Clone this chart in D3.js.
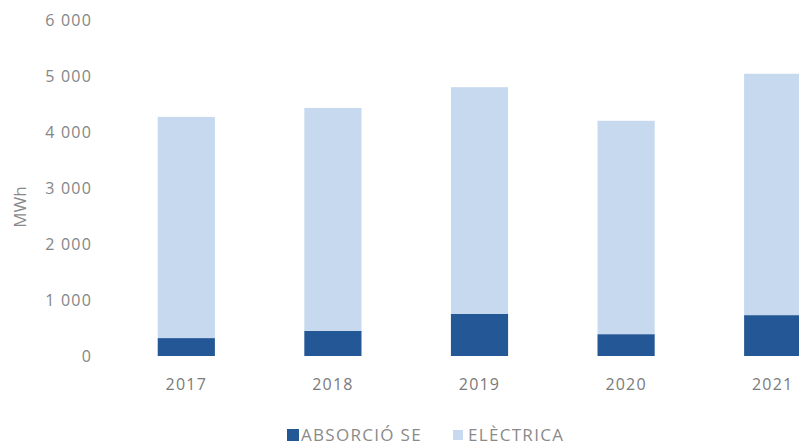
<!DOCTYPE html>
<html><head><meta charset="utf-8">
<script src="https://cdn.jsdelivr.net/npm/d3@7"></script>
<style>body{margin:0;background:#fff}svg{display:block}</style>
</head><body><svg id="c" width="799" height="446"></svg>
<script>
const years = ["2017","2018","2019","2020","2021"];
const absorcio = [320, 450, 750, 390, 730];
const electrica = [3950, 3980, 4050, 3810, 4310];
const yTicks = [0,1000,2000,3000,4000,5000,6000];
const seriesNames = ["ABSORCIÓ SE","ELÈCTRICA"];
const colors = ["#245795","#c6d9ef"];

const svg = d3.select("#c");
const font = "'Open Sans', 'Liberation Sans', sans-serif";
const y = d3.scaleLinear().domain([0,6000]).range([356,20]);
const x = d3.scaleBand().domain(years).range([113,846]).paddingInner(0.61).paddingOuter(0.305);

const data = years.map((yr,i)=>({year:yr, ABS:absorcio[i], ELE:electrica[i]}));
const stack = d3.stack().keys(["ABS","ELE"])(data);

svg.append("g").selectAll("g").data(stack).join("g")
  .attr("fill",(d,i)=>colors[i])
  .selectAll("rect").data(d=>d).join("rect")
  .attr("x",d=>x(d.data.year))
  .attr("width",x.bandwidth())
  .attr("y",d=>y(d[1]))
  .attr("height",d=>y(d[0])-y(d[1]));

const fmt = v => d3.format(",")(v).replace(/,/g," ");
const ya = svg.append("g").attr("transform","translate(92,0)")
  .call(d3.axisLeft(y).tickValues(yTicks).tickFormat(fmt).tickSize(0).tickPadding(0));
ya.select(".domain").remove();
ya.selectAll("text").attr("font-family",font).attr("font-size",16).attr("letter-spacing","1.2px")
  .attr("fill","#858585").attr("dy","0.36em");

const xa = svg.append("g").attr("transform","translate(0,378)")
  .call(d3.axisBottom(x).tickSize(0).tickPadding(0));
xa.select(".domain").remove();
xa.selectAll("text").attr("font-family",font).attr("font-size",16).attr("letter-spacing","1.2px")
  .attr("fill","#7a7a7a").attr("dy","0.78em");

svg.append("text").attr("transform","translate(26,207) rotate(-90)")
  .attr("text-anchor","middle").attr("font-family",font).attr("font-size",17).attr("fill","#8a8a8a").text("MWh");

const leg = svg.append("g").attr("transform","translate(287,428)");
const legX = [0, 166];
seriesNames.forEach((n,i)=>{
  const g = leg.append("g").attr("transform",`translate(${legX[i]},0)`);
  g.append("rect").attr("width",i===0?12:10).attr("height",i===0?12:10).attr("y",i===0?1:2).attr("fill",colors[i]);
  g.append("text").attr("x",i===0?14:15).attr("y",13).attr("font-family",font).attr("font-size",17)
    .attr("letter-spacing","1.3px").attr("fill","#8a8a8a").text(n);
});
</script></body></html>
